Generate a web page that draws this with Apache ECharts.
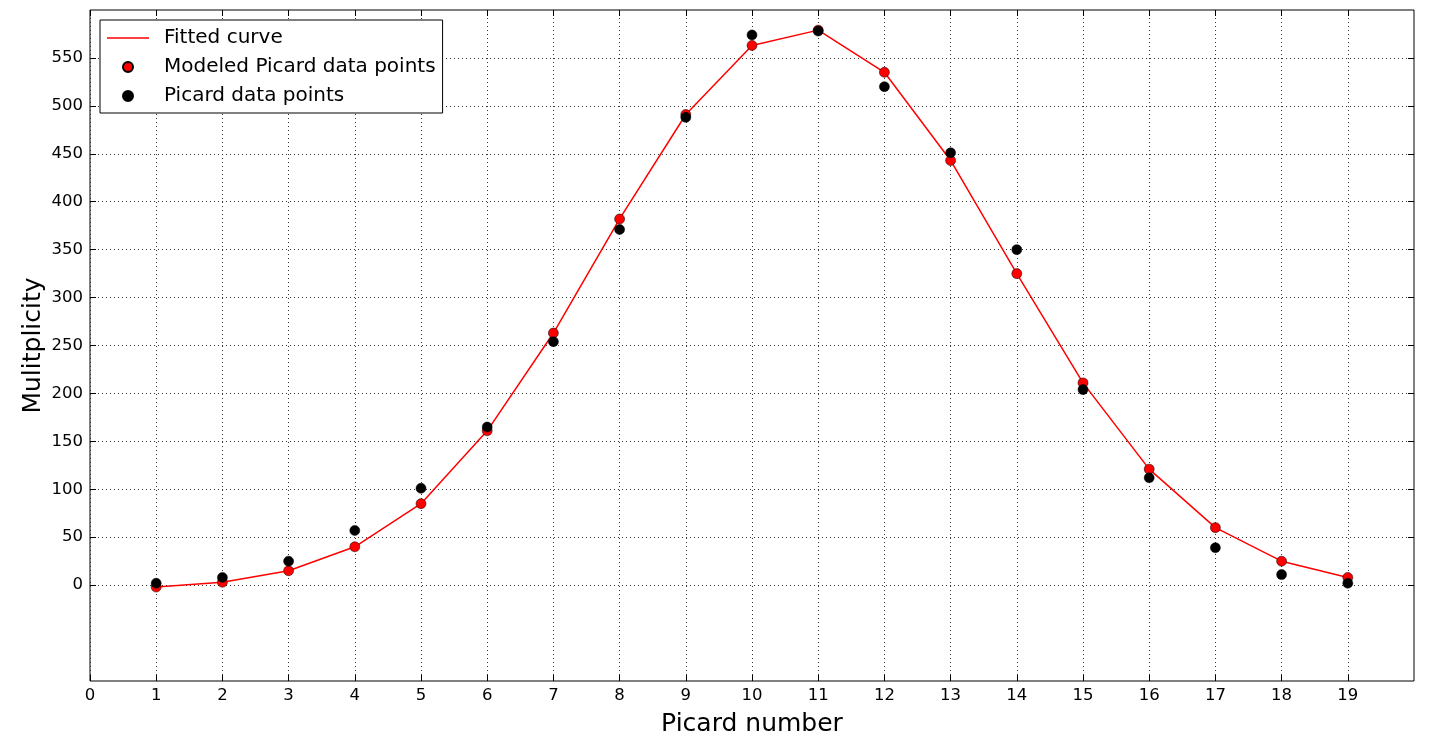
<!DOCTYPE html>
<html>
<head>
<meta charset="utf-8">
<script src="https://cdn.jsdelivr.net/npm/echarts@6/dist/echarts.min.js"></script>
<style>
  html, body { margin: 0; padding: 0; background: #fff; }
  #chart { width: 1431px; height: 745px; }
</style>
</head>
<body>
<div id="chart"></div>
<script>
// picard numbers on the x axis
const picard = [1, 2, 3, 4, 5, 6, 7, 8, 9, 10, 11, 12, 13, 14, 15, 16, 17, 18, 19]
// fitted / modeled multiplicity (red)
const modeled = [-2, 3, 15, 40, 85, 161, 263, 382, 491, 563, 579, 535, 443, 325, 211, 121, 60, 25, 8]
// measured multiplicity (black)
const measured = [2, 8, 25, 57, 101, 165, 254, 371, 488, 574, 578, 520, 451, 350, 204, 112, 39, 11, 2]
// tick labels
const xTicks = [0, 1, 2, 3, 4, 5, 6, 7, 8, 9, 10, 11, 12, 13, 14, 15, 16, 17, 18, 19]
const yTicks = [0, 50, 100, 150, 200, 250, 300, 350, 400, 450, 500, 550]

const font = 'DejaVu Sans'

const chart = echarts.init(document.getElementById('chart'), null, { renderer: 'canvas' })

const tick = { show: true, inside: true, length: 6, lineStyle: { color: '#000', width: 1 } }
const grid = { show: true, lineStyle: { color: '#333', width: 1, type: [1, 3] } }
const noLine = { show: false, onZero: false }

chart.setOption({
  backgroundColor: '#fff',
  animation: false,
  textStyle: { fontFamily: font },
  grid: {
    left: 90,
    right: 17,
    top: 10,
    bottom: 64,
    show: true,
    borderColor: '#000',
    borderWidth: 1,
    backgroundColor: '#fff'
  },
  legend: {
    orient: 'vertical',
    left: 100,
    top: 20,
    padding: [7, 7, 6, 7],
    itemWidth: 42,
    itemHeight: 10,
    itemGap: 7,
    backgroundColor: '#fff',
    borderColor: '#000',
    borderWidth: 1,
    borderRadius: 0,
    textStyle: { fontFamily: font, fontSize: 20, color: '#000', lineHeight: 22, padding: [0, 0, 0, 10] },
    data: [
      { name: 'Fitted curve', icon: 'path://M0,0H42V1.5H0Z' },
      'Modeled Picard data points',
      'Picard data points'
    ]
  },
  xAxis: [
    {
      type: 'value',
      min: 0,
      max: 20,
      name: 'Picard number',
      nameLocation: 'middle',
      nameGap: 31,
      nameMoveOverlap: false,
      nameTextStyle: { fontFamily: font, fontSize: 25, color: '#000' },
      axisLine: noLine,
      axisTick: Object.assign({ customValues: xTicks }, tick),
      axisLabel: { customValues: xTicks, fontFamily: font, fontSize: 16.5, color: '#000', margin: 6 },
      splitLine: grid
    },
    {
      type: 'value',
      position: 'top',
      min: 0,
      max: 20,
      axisLine: noLine,
      axisTick: Object.assign({ customValues: xTicks }, tick),
      axisLabel: { show: false, customValues: xTicks },
      splitLine: { show: false }
    }
  ],
  yAxis: [
    {
      type: 'value',
      min: -100,
      max: 600,
      name: 'Mulitplicity',
      nameLocation: 'middle',
      nameGap: 44,
      nameMoveOverlap: false,
      nameTextStyle: { fontFamily: font, fontSize: 25, color: '#000' },
      axisLine: noLine,
      axisTick: Object.assign({ customValues: yTicks }, tick),
      axisLabel: { customValues: yTicks, fontFamily: font, fontSize: 16.5, color: '#000', margin: 7 },
      splitLine: grid
    },
    {
      type: 'value',
      position: 'right',
      min: -100,
      max: 600,
      axisLine: noLine,
      axisTick: Object.assign({ customValues: yTicks }, tick),
      axisLabel: { show: false, customValues: yTicks },
      splitLine: { show: false }
    }
  ],
  series: [
    {
      name: 'Fitted curve',
      type: 'line',
      symbol: 'none',
      data: picard.map((p, i) => [p, modeled[i]]),
      lineStyle: { color: '#ff0000', width: 1.5 },
      itemStyle: { color: '#ff0000' },
      z: 2
    },
    {
      name: 'Modeled Picard data points',
      type: 'scatter',
      symbol: 'circle',
      symbolSize: 10,
      data: picard.map((p, i) => [p, modeled[i]]),
      itemStyle: { color: '#ff0000', borderColor: '#000', borderWidth: 0.5, opacity: 1 },
      z: 3
    },
    {
      name: 'Picard data points',
      type: 'scatter',
      symbol: 'circle',
      symbolSize: 10,
      data: picard.map((p, i) => [p, measured[i]]),
      itemStyle: { color: '#000', borderColor: '#000', borderWidth: 0.5, opacity: 1 },
      z: 4
    }
  ]
})
</script>
</body>
</html>
